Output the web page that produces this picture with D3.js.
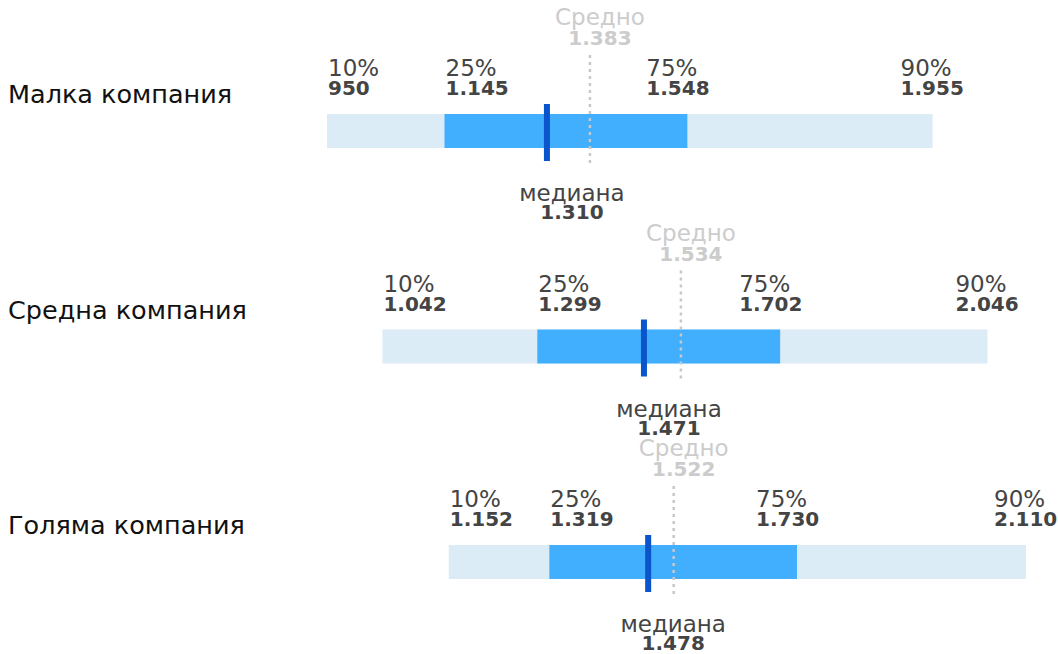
<!DOCTYPE html>
<html>
<head>
<meta charset="utf-8">
<script src="https://cdn.jsdelivr.net/npm/d3@7"></script>
<style>
  body { margin: 0; background: #fff; }
  text { font-family: "DejaVu Sans", sans-serif; }
</style>
</head>
<body>
<div id="chart"></div>
<script>
const categories = ["Малка компания", "Средна компания", "Голяма компания"];
const p10 = [950, 1042, 1152];
const p25 = [1145, 1299, 1319];
const median = [1310, 1471, 1478];
const p75 = [1548, 1702, 1730];
const p90 = [1955, 2046, 2110];
const mean = [1383, 1534, 1522];
const pctLabels = ["10%", "25%", "75%", "90%"];

const width = 1058;
const height = 654;

const fmt = d3.formatLocale({ decimal: ",", thousands: ".", grouping: [3], currency: ["", ""] }).format(",");

const svg = d3.select("#chart").append("svg")
    .attr("width", width)
    .attr("height", height);

const x = d3.scaleLinear()
    .domain([950, 2110])
    .range([327, 1026]);

const y = d3.scalePoint()
    .domain(categories)
    .range([131, 562]);

const barH = 34;
const grey = "#444444";
const light = "#cccccc";
const regSize = 23;
const boldSize = 20;
// horizontal shift of each percentile label from its value
const labelShift = [1, 1, -41, -32];

categories.forEach((cat, i) => {
    const g = svg.append("g").attr("transform", "translate(0," + y(cat) + ")");

    // category label
    g.append("text")
        .attr("x", 8)
        .attr("y", -28)
        .attr("font-size", 25.5)
        .attr("fill", "#111")
        .text(cat);

    // outer band 10-90
    g.append("rect")
        .attr("x", x(p10[i]))
        .attr("y", -barH / 2)
        .attr("width", x(p90[i]) - x(p10[i]))
        .attr("height", barH)
        .attr("fill", "#dcecf7");

    // inner band 25-75
    g.append("rect")
        .attr("x", x(p25[i]))
        .attr("y", -barH / 2)
        .attr("width", x(p75[i]) - x(p25[i]))
        .attr("height", barH)
        .attr("fill", "#41affe");

    // mean line
    g.append("line")
        .attr("x1", x(mean[i]) + 2)
        .attr("x2", x(mean[i]) + 2)
        .attr("y1", -76)
        .attr("y2", 34)
        .attr("stroke", "#c8c8c8")
        .attr("stroke-width", 2.5)
        .attr("stroke-dasharray", "3,4");

    // median marker
    g.append("rect")
        .attr("x", x(median[i]))
        .attr("y", -27)
        .attr("width", 6)
        .attr("height", 57)
        .attr("fill", "#0b55cc");

    // percentile labels
    const vals = [p10[i], p25[i], p75[i], p90[i]];
    vals.forEach((v, j) => {
        const lx = x(v) + labelShift[j];
        g.append("text")
            .attr("x", lx)
            .attr("y", -55)
            .attr("font-size", regSize)
            .attr("fill", grey)
            .text(pctLabels[j]);
        g.append("text")
            .attr("x", lx)
            .attr("y", -36)
            .attr("font-size", boldSize)
            .attr("font-weight", "bold")
            .attr("fill", grey)
            .text(fmt(v));
    });

    // mean label
    g.append("text")
        .attr("x", x(mean[i]) + 12)
        .attr("y", -106)
        .attr("text-anchor", "middle")
        .attr("font-size", regSize)
        .attr("fill", light)
        .text("Средно");
    g.append("text")
        .attr("x", x(mean[i]) + 12)
        .attr("y", -86)
        .attr("text-anchor", "middle")
        .attr("font-size", boldSize)
        .attr("font-weight", "bold")
        .attr("fill", light)
        .text(fmt(mean[i]));

    // median label
    g.append("text")
        .attr("x", x(median[i]) + 28)
        .attr("y", 70)
        .attr("text-anchor", "middle")
        .attr("font-size", regSize)
        .attr("fill", grey)
        .text("медиана");
    g.append("text")
        .attr("x", x(median[i]) + 28)
        .attr("y", 88)
        .attr("text-anchor", "middle")
        .attr("font-size", boldSize)
        .attr("font-weight", "bold")
        .attr("fill", grey)
        .text(fmt(median[i]));
});
</script>
</body>
</html>
